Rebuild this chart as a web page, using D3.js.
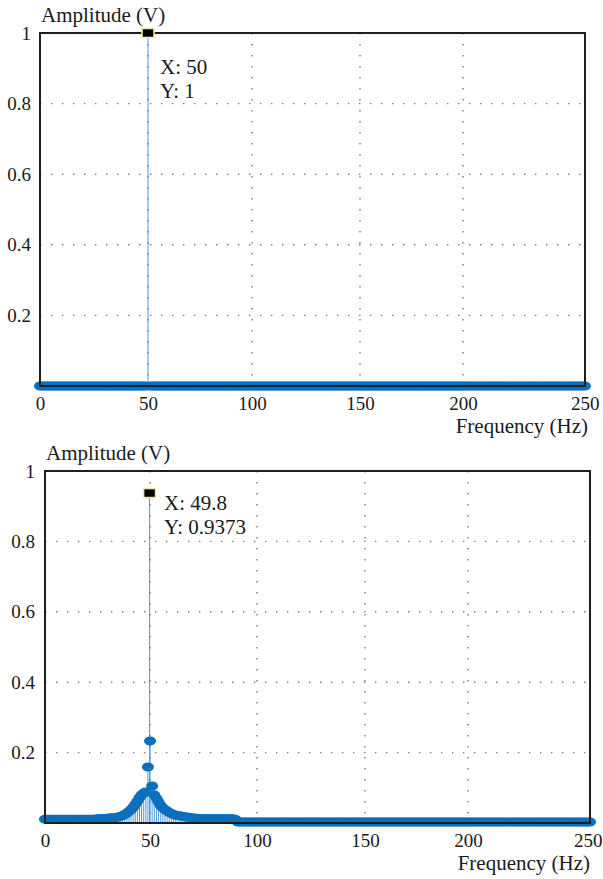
<!DOCTYPE html>
<html>
<head>
<meta charset="utf-8">
<script src="https://cdn.jsdelivr.net/npm/d3@7/dist/d3.min.js"></script>
<style>
  html, body { margin: 0; padding: 0; background: #fff; }
  svg { display: block; }
  text { font-family: "Liberation Serif", "DejaVu Serif", "Noto Serif", Times, serif; fill: #1a1a1a; }
</style>
</head>
<body>
<svg id="chart" width="603" height="879"></svg>
<script>
// ---------- DATA ----------
// frequency grid (Hz), 1 Hz spacing from 0 to 250
const freqGrid = d3.range(0, 251, 1);

// Top chart: ideal spectrum amplitudes (V) at freqGrid
const ampTop = [
  0,0,0,0,0,0,0,0,0,0,0,0,0,0,0,0,0,0,0,0,0,0,0,0,0,
  0,0,0,0,0,0,0,0,0,0,0,0,0,0,0,0,0,0,0,0,0,0,0,0,0,
  1,0,0,0,0,0,0,0,0,0,0,0,0,0,0,0,0,0,0,0,0,0,0,0,0,
  0,0,0,0,0,0,0,0,0,0,0,0,0,0,0,0,0,0,0,0,0,0,0,0,0,
  0,0,0,0,0,0,0,0,0,0,0,0,0,0,0,0,0,0,0,0,0,0,0,0,0,
  0,0,0,0,0,0,0,0,0,0,0,0,0,0,0,0,0,0,0,0,0,0,0,0,0,
  0,0,0,0,0,0,0,0,0,0,0,0,0,0,0,0,0,0,0,0,0,0,0,0,0,
  0,0,0,0,0,0,0,0,0,0,0,0,0,0,0,0,0,0,0,0,0,0,0,0,0,
  0,0,0,0,0,0,0,0,0,0,0,0,0,0,0,0,0,0,0,0,0,0,0,0,0,
  0,0,0,0,0,0,0,0,0,0,0,0,0,0,0,0,0,0,0,0,0,0,0,0,0,
  0
];

// Bottom chart: measured spectrum amplitudes (V) at freqGrid
const ampBottom = [
  .011,.011,.011,.011,.011,.011,.011,.011,.011,.011,.011,.011,.011,.011,.011,.011,.011,.011,.011,.011,.011,.011,.011,.011,.011,
  .012,.012,.013,.013,.013,.014,.014,.015,.015,.016,.017,.019,.021,.024,.028,.033,.038,.045,.053,.062,.072,.080,.085,.088,.159,
  .233,.105,.080,.070,.060,.050,.043,.038,.034,.030,.027,.024,.022,.021,.020,.019,.018,.017,.016,.015,.014,.014,.013,.013,.013,
  .012,.012,.012,.012,.012,.012,.012,.012,.012,.012,.012,.012,.012,.012,.012,.010,.003,.003,.003,.003,.003,.003,.003,.003,.003,
  .003,.003,.003,.003,.003,.003,.003,.003,.003,.003,.003,.003,.003,.003,.003,.003,.003,.003,.003,.003,.003,.003,.003,.003,.003,
  .003,.003,.003,.003,.003,.003,.003,.003,.003,.003,.003,.003,.003,.003,.003,.003,.003,.003,.003,.003,.003,.003,.003,.003,.003,
  .003,.003,.003,.003,.003,.003,.003,.003,.003,.003,.003,.003,.003,.003,.003,.003,.003,.003,.003,.003,.003,.003,.003,.003,.003,
  .003,.003,.003,.003,.003,.003,.003,.003,.003,.003,.003,.003,.003,.003,.003,.003,.003,.003,.003,.003,.003,.003,.003,.003,.003,
  .003,.003,.003,.003,.003,.003,.003,.003,.003,.003,.003,.003,.003,.003,.003,.003,.003,.003,.003,.003,.003,.003,.003,.003,.003,
  .003,.003,.003,.003,.003,.003,.003,.003,.003,.003,.003,.003,.003,.003,.003,.003,.003,.003,.003,.003,.003,.003,.003,.003,.003,
  .003
];
// extra measured peak sample (off-grid)
const peakBottomFreq = [49.8];
const peakBottomAmp = [0.9373];

// Data tips
const tipTop = { x: 50, y: 1, label: ["X: 50", "Y: 1"] };
const tipBottom = { x: 49.8, y: 0.9373, label: ["X: 49.8", "Y: 0.9373"] };

// Axis ticks
const xTicks = [0, 50, 100, 150, 200, 250];
const yTicks = [0.2, 0.4, 0.6, 0.8, 1];
const yLabel = "Amplitude (V)";
const xLabel = "Frequency (Hz)";

// ---------- DRAWING ----------
const FONT = '"Liberation Serif", "DejaVu Serif", "Noto Serif", Times, serif';
const svg = d3.select("#chart");
svg.append("rect").attr("width", 603).attr("height", 879).attr("fill", "#fff");

const BLUE = "#0b6fbf";
const STEM = "#4a9ade";

function drawPanel(cfg) {
  const g = svg.append("g");
  const x = d3.scaleLinear().domain(xTicks).range(cfg.xr);
  const y = d3.scaleLinear().domain([0, 1]).range([cfg.bottom, cfg.top]);
  const pts = cfg.freqs.map((f, i) => ({ f, a: cfg.amps[i] }))
    .sort((p, q) => p.f - q.f);

  // stems
  g.append("g").selectAll("line").data(pts).join("line")
    .attr("x1", d => x(d.f)).attr("x2", d => x(d.f))
    .attr("y1", y(0)).attr("y2", d => y(d.a))
    .attr("stroke", STEM).attr("stroke-width", 1);

  // markers
  g.append("g").selectAll("ellipse").data(pts).join("ellipse")
    .attr("cx", d => x(d.f)).attr("cy", d => y(d.a))
    .attr("rx", 6).attr("ry", 4.5)
    .attr("fill", BLUE);

  // grid (on top of data)
  const grid = g.append("g").attr("stroke", "#7a7a7a").attr("stroke-width", 1.4)
    .attr("stroke-dasharray", "1.4 9.6").attr("fill", "none");
  grid.selectAll("line.v").data(xTicks.filter(t => t > 0 && t < 250)).join("line")
    .attr("class", "v")
    .attr("x1", d => x(d)).attr("x2", d => x(d))
    .attr("y1", y(1)).attr("y2", y(0));
  grid.selectAll("line.h").data(yTicks.filter(t => t < 1)).join("line")
    .attr("class", "h")
    .attr("x1", x(0)).attr("x2", x(250))
    .attr("y1", d => y(d)).attr("y2", d => y(d));

  // box
  g.append("rect")
    .attr("x", x(0)).attr("y", y(1))
    .attr("width", x(250) - x(0)).attr("height", y(0) - y(1))
    .attr("fill", "none").attr("stroke", "#1e1e1e").attr("stroke-width", 2);

  // axes (labels only)
  const ax = g.append("g").attr("transform", `translate(0,${y(0)})`)
    .call(d3.axisBottom(x).tickValues(xTicks).tickSize(0).tickPadding(10.5).tickFormat(d3.format("d")));
  ax.select(".domain").remove();
  ax.selectAll("text").attr("font-size", 19).attr("font-family", FONT).attr("fill", "#1a1a1a");
  // keep the last label inside the page
  ax.selectAll(".tick").filter(d => d === 250).select("text")
    .attr("text-anchor", "end").attr("dx", Math.min(14, 602 - x(250)));

  const ay = g.append("g").attr("transform", `translate(${x(0)},0)`)
    .call(d3.axisLeft(y).tickValues(yTicks).tickSize(0).tickPadding(cfg.ypad)
      .tickFormat(d => d === 1 ? "1" : d3.format(".1f")(d)));
  ay.select(".domain").remove();
  ay.selectAll("text").attr("font-size", 19).attr("font-family", FONT).attr("fill", "#1a1a1a");

  // axis titles
  g.append("text").attr("x", cfg.ylabX).attr("y", cfg.ylabY)
    .attr("font-size", 21).attr("font-family", FONT).text(yLabel);
  g.append("text").attr("x", cfg.xlabX).attr("y", cfg.xlabY)
    .attr("text-anchor", "end").attr("font-size", 21).attr("font-family", FONT).text(xLabel);

  // data tip
  const tx = x(cfg.tip.x), ty = y(cfg.tip.y);
  g.append("rect").attr("x", tx - 6).attr("y", ty - 4.5)
    .attr("width", 12).attr("height", 9)
    .attr("fill", "#000").attr("stroke", "#efe7a6").attr("stroke-width", 1.6);
  cfg.tip.label.forEach((s, i) => {
    g.append("text").attr("x", cfg.tipTextX).attr("y", cfg.tipTextY + i * 24)
      .attr("font-size", 21).attr("font-family", FONT).text(s);
  });
}

drawPanel({
  xr: [40, 148, 252, 360, 463, 585], top: 33, bottom: 386, ypad: 9,
  freqs: freqGrid, amps: ampTop, tip: tipTop,
  ylabX: 41, ylabY: 22, xlabX: 588, xlabY: 433,
  tipTextX: 160, tipTextY: 74
});

drawPanel({
  xr: [45, 150, 257, 365, 468, 590], top: 471, bottom: 823, ypad: 10,
  freqs: freqGrid.concat(peakBottomFreq), amps: ampBottom.concat(peakBottomAmp), tip: tipBottom,
  ylabX: 46, ylabY: 460, xlabX: 590, xlabY: 870,
  tipTextX: 164, tipTextY: 510
});
</script>
</body>
</html>
